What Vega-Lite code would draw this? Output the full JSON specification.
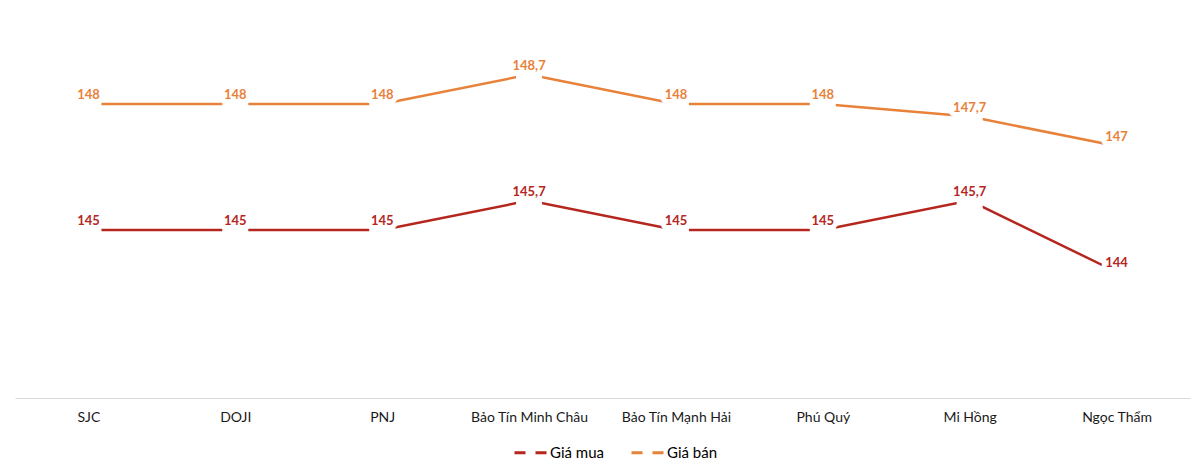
{
  "$schema": "https://vega.github.io/schema/vega-lite/v6.json",
  "width": 1175,
  "height": 378,
  "padding": {"left": 15, "top": 20, "right": 10, "bottom": 5},
  "autosize": {"type": "pad"},
  "background": "white",
  "config": {
    "view": {"stroke": null},
    "font": "Lato",
    "locale": {"number": {"decimal": ",", "thousands": ".", "grouping": [3], "currency": ["", ""]}}
  },
  "data": {
    "values": [
      {"store": "SJC", "series": "Giá mua", "price": 145},
      {"store": "DOJI", "series": "Giá mua", "price": 145},
      {"store": "PNJ", "series": "Giá mua", "price": 145},
      {"store": "Bảo Tín Minh Châu", "series": "Giá mua", "price": 145.7},
      {"store": "Bảo Tín Mạnh Hải", "series": "Giá mua", "price": 145},
      {"store": "Phú Quý", "series": "Giá mua", "price": 145},
      {"store": "Mi Hồng", "series": "Giá mua", "price": 145.7},
      {"store": "Ngọc Thẩm", "series": "Giá mua", "price": 144},
      {"store": "SJC", "series": "Giá bán", "price": 148},
      {"store": "DOJI", "series": "Giá bán", "price": 148},
      {"store": "PNJ", "series": "Giá bán", "price": 148},
      {"store": "Bảo Tín Minh Châu", "series": "Giá bán", "price": 148.7},
      {"store": "Bảo Tín Mạnh Hải", "series": "Giá bán", "price": 148},
      {"store": "Phú Quý", "series": "Giá bán", "price": 148},
      {"store": "Mi Hồng", "series": "Giá bán", "price": 147.7},
      {"store": "Ngọc Thẩm", "series": "Giá bán", "price": 147}
    ]
  },
  "encoding": {
    "x": {
      "field": "store",
      "type": "nominal",
      "sort": null,
      "scale": {"type": "point", "padding": 0.5},
      "axis": {
        "title": null,
        "labelAngle": 0,
        "ticks": false,
        "grid": false,
        "domainColor": "#D9D9D9",
        "domainWidth": 1,
        "labelFont": "Lato",
        "labelFontSize": 14,
        "labelColor": "#1a1a1a",
        "labelPadding": 12
      }
    },
    "y": {
      "field": "price",
      "type": "quantitative",
      "scale": {"domain": [141, 150], "zero": false, "nice": false},
      "axis": null
    },
    "color": {
      "field": "series",
      "type": "nominal",
      "scale": {"domain": ["Giá mua", "Giá bán"], "range": ["#B5261E", "#E8823A"]},
      "legend": {
        "title": null,
        "orient": "none",
        "legendX": 498,
        "legendY": 415,
        "direction": "horizontal",
        "symbolType": "stroke",
        "symbolStrokeWidth": 3,
        "symbolDash": [11, 10],
        "symbolSize": 1024,
        "labelOffset": 2,
        "labelFont": "Lato",
        "labelFontSize": 15,
        "labelColor": "#000000",
        "columnPadding": 21
      }
    }
  },
  "layer": [
    {
      "mark": {"type": "line", "strokeWidth": 2.5}
    },
    {
      "mark": {"type": "point", "shape": "square", "size": 676, "filled": true, "opacity": 1},
      "encoding": {
        "color": {"value": "white"}
      }
    },
    {
      "mark": {"type": "text", "fontSize": 13, "fontWeight": "bold", "dy": -9, "stroke": "white", "strokeWidth": 10, "strokeJoin": "round"},
      "encoding": {
        "text": {"field": "price", "type": "quantitative", "format": ".1~f"},
        "color": {"value": "white"}
      }
    },
    {
      "mark": {"type": "text", "fontSize": 13, "fontWeight": "bold", "dy": -9},
      "encoding": {
        "text": {"field": "price", "type": "quantitative", "format": ".1~f"}
      }
    }
  ]
}
